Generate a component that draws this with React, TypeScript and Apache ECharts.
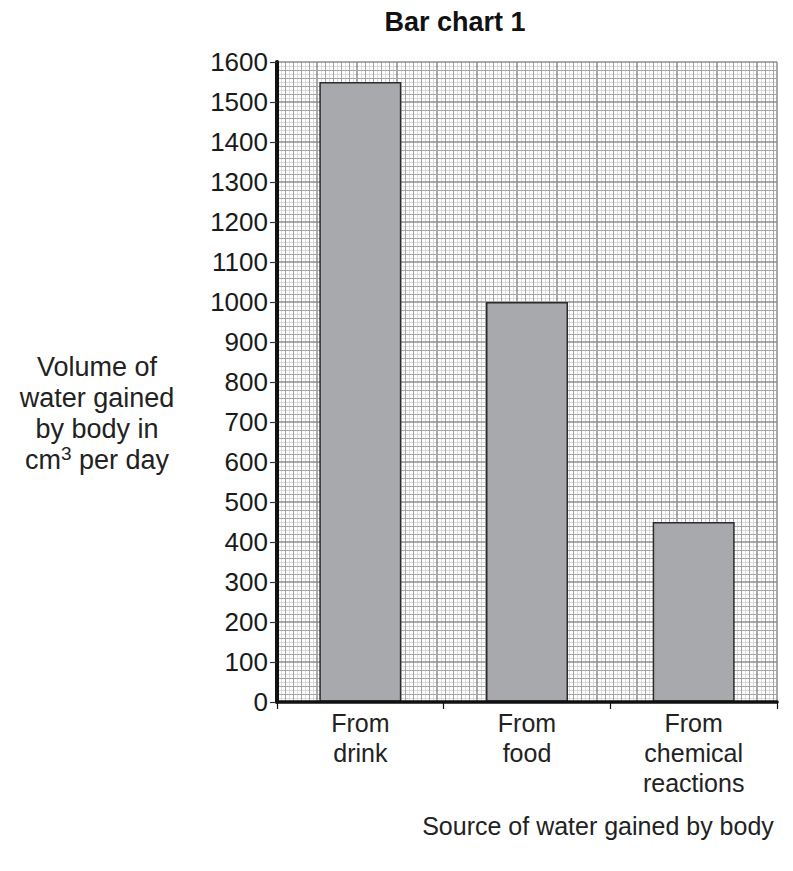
import React, { useEffect, useRef } from "react";
import * as echarts from "echarts";

const categories = ["From\ndrink", "From\nfood", "From\nchemical\nreactions"];
const volumes = [1550, 1000, 450];
const yMin = 0;
const yMax = 1600;
const yStep = 100;
const title = "Bar chart 1";
const xName = "Source of water gained by body";

export default function App() {
  const ref = useRef<HTMLDivElement>(null);
  useEffect(() => {
    document.body.style.margin = "0";
    const chart = echarts.init(ref.current!, null, { renderer: "svg" });
    const font = "Liberation Sans, Arial, sans-serif";
    const hiddenAxisBits = {
      axisLine: { show: false },
      axisTick: { show: false },
      axisLabel: { show: false },
    };
    chart.setOption({
      animation: false,
      backgroundColor: "#ffffff",
      grid: { left: 277, top: 62, width: 500, height: 640, containLabel: false },
      xAxis: [
        {
          type: "category",
          data: categories,
          position: "bottom",
          axisLine: { lineStyle: { color: "#111", width: 3.5 } },
          axisTick: { show: true, length: 7, lineStyle: { color: "#111", width: 1.2 }, alignWithLabel: false },
          axisLabel: { color: "#222", fontSize: 25, fontFamily: font, lineHeight: 30, margin: 6, interval: 0 },
          splitLine: { show: false },
          z: 12,
        },
        {
          type: "value",
          min: 0,
          max: 1250,
          interval: 100,
          ...hiddenAxisBits,
          splitLine: { show: true, lineStyle: { color: "#8c8c8c", width: 1.5 } },
          minorTick: { show: false, splitNumber: 5 },
          minorSplitLine: { show: true, lineStyle: { color: "#a6a6a6", width: 1 } },
          z: 1,
        },
        {
          type: "value",
          min: 0,
          max: 1250,
          interval: 20,
          ...hiddenAxisBits,
          splitLine: { show: false },
          minorTick: { show: false, splitNumber: 2 },
          minorSplitLine: { show: true, lineStyle: { color: "#dadada", width: 1 } },
          z: 0,
        },
      ],
      yAxis: [
        {
          type: "value",
          min: yMin,
          max: yMax,
          interval: yStep,
          axisLine: { show: true, lineStyle: { color: "#111", width: 4 } },
          axisTick: { show: true, length: 7, lineStyle: { color: "#333", width: 1.2 } },
          axisLabel: {
            color: "#1a1a1a",
            fontSize: 26,
            fontFamily: font,
            margin: 9,
            formatter: (v: number) => String(v),
          },
          splitLine: { show: true, lineStyle: { color: "#8c8c8c", width: 1.5 } },
          minorTick: { show: false, splitNumber: 5 },
          minorSplitLine: { show: true, lineStyle: { color: "#a6a6a6", width: 1 } },
          z: 4,
        },
        {
          type: "value",
          min: yMin,
          max: yMax,
          interval: 20,
          ...hiddenAxisBits,
          splitLine: { show: false },
          minorTick: { show: false, splitNumber: 2 },
          minorSplitLine: { show: true, lineStyle: { color: "#dadada", width: 1 } },
          z: 0,
        },
      ],
      series: [
        {
          type: "bar",
          xAxisIndex: 0,
          yAxisIndex: 0,
          data: volumes,
          barWidth: 82,
          itemStyle: { color: "#a8a9ad", borderColor: "#2a2a2a", borderWidth: 1.5 },
          z: 10,
        },
      ],
      graphic: [
        {
          type: "text",
          x: 455,
          y: 22,
          style: {
            text: title,
            fontSize: 27,
            fontWeight: "bold",
            fontFamily: font,
            fill: "#111",
            textAlign: "center",
            textVerticalAlign: "middle",
          },
        },
        {
          type: "text",
          x: 97,
          y: 413,
          style: {
            text: "Volume of\nwater gained\nby body in\ncm{sup|3} per day",
            fontSize: 27,
            fontFamily: font,
            fill: "#222",
            lineHeight: 31,
            textAlign: "center",
            textVerticalAlign: "middle",
            rich: {
              sup: { fontSize: 19, verticalAlign: "top", padding: [0, 0, 8, 0], fill: "#222", fontFamily: font },
            },
          },
        },
        {
          type: "text",
          x: 598,
          y: 826,
          style: {
            text: xName,
            fontSize: 25,
            fontFamily: font,
            fill: "#222",
            textAlign: "center",
            textVerticalAlign: "middle",
          },
        },
      ],
    });
    return () => chart.dispose();
  }, []);
  return <div ref={ref} style={{ width: 793, height: 871 }} />;
}
